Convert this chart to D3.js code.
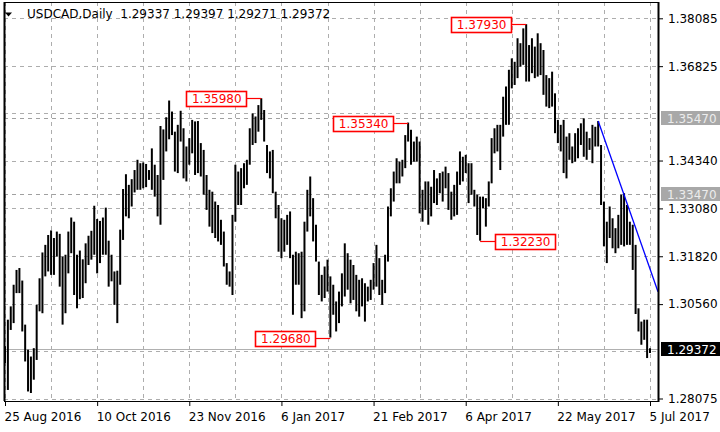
<!DOCTYPE html>
<html>
<head>
<meta charset="utf-8">
<script src="https://cdn.jsdelivr.net/npm/d3@7/dist/d3.min.js"></script>
<style>
    body { margin: 0; background: #fff; }
    svg { display: block; font-family: "DejaVu Sans", sans-serif; }
</style>
</head>
<body>
<div id="chart"></div>
<script>
// title / last bar
const symbol = 'USDCAD,Daily';
const lastOHLC = [1.29337, 1.29397, 1.29271, 1.29372];

// daily bar highs and lows, 25 Aug 2016 .. 5 Jul 2017
const highs = [
    1.2945, 1.3015, 1.3050, 1.3107, 1.3146, 1.3151, 1.3118, 1.3002, 1.2936, 1.2918,
    1.2940, 1.3054, 1.3124, 1.3192, 1.3212, 1.3238, 1.3250, 1.3230, 1.3247, 1.3241,
    1.3181, 1.3186, 1.3247, 1.3284, 1.3273, 1.3186, 1.3197, 1.3174, 1.3216, 1.3236,
    1.3249, 1.3315, 1.3280, 1.3275, 1.3284, 1.3310, 1.3223, 1.3186, 1.3142, 1.3144,
    1.3252, 1.3359, 1.3398, 1.3370, 1.3385, 1.3409, 1.3436, 1.3427, 1.3429, 1.3425,
    1.3409, 1.3466, 1.3423, 1.3396, 1.3525, 1.3516, 1.3548, 1.3592, 1.3563, 1.3510,
    1.3528, 1.3565, 1.3519, 1.3471, 1.3493, 1.3541, 1.3537, 1.3538, 1.3480, 1.3462,
    1.3396, 1.3357, 1.3352, 1.3326, 1.3317, 1.3278, 1.3247, 1.3164, 1.3142, 1.3291,
    1.3423, 1.3405, 1.3414, 1.3427, 1.3436, 1.3519, 1.3558, 1.3550, 1.3580, 1.3598,
    1.3567, 1.3475, 1.3458, 1.3462, 1.3352, 1.3317, 1.3282, 1.3278, 1.3291, 1.3300,
    1.3186, 1.3194, 1.3190, 1.3194, 1.3273, 1.3357, 1.3392, 1.3335, 1.3265, 1.3168,
    1.3133, 1.3155, 1.3173, 1.3129, 1.3107, 1.3063, 1.3089, 1.3137, 1.3216, 1.3190,
    1.3173, 1.3159, 1.3133, 1.3120, 1.3124, 1.3111, 1.3102, 1.3120, 1.3164, 1.3212,
    1.3177, 1.3120, 1.3186, 1.3313, 1.3361, 1.3405, 1.3440, 1.3431, 1.3436, 1.3501,
    1.3534, 1.3515, 1.3484, 1.3497, 1.3484, 1.3357, 1.3379, 1.3379, 1.3365, 1.3409,
    1.3387, 1.3401, 1.3405, 1.3418, 1.3401, 1.3352, 1.3370, 1.3405, 1.3458, 1.3444,
    1.3449, 1.3427, 1.3427, 1.3357, 1.3344, 1.3339, 1.3339, 1.3335, 1.3379, 1.3493,
    1.3519, 1.3528, 1.3528, 1.3602, 1.3629, 1.3673, 1.3703, 1.3694, 1.3756, 1.3743,
    1.3782, 1.3793, 1.3738, 1.3756, 1.3734, 1.3769, 1.3743, 1.3725, 1.3659, 1.3651,
    1.3668, 1.3611, 1.3541, 1.3528, 1.3541, 1.3497, 1.3506, 1.3471, 1.3506, 1.3519,
    1.3532, 1.3545, 1.3510, 1.3493, 1.3528, 1.3523, 1.3538, 1.3475, 1.3326, 1.3273,
    1.3313, 1.3282, 1.3256, 1.3291, 1.3344, 1.3348, 1.3317, 1.3273, 1.3265, 1.3212,
    1.3045, 1.3010, 1.3015, 1.3015, 1.29397
];
const lows = [
    1.2901, 1.2830, 1.2988, 1.3006, 1.3085, 1.3085, 1.2984, 1.2905, 1.2826, 1.2822,
    1.2857, 1.2909, 1.3037, 1.3032, 1.3129, 1.3142, 1.3133, 1.3133, 1.3181, 1.3102,
    1.3002, 1.3032, 1.3137, 1.3190, 1.3080, 1.3045, 1.3069, 1.3072, 1.3111, 1.3159,
    1.3173, 1.3186, 1.3137, 1.3164, 1.3186, 1.3186, 1.3102, 1.3116, 1.3054, 1.3006,
    1.3107, 1.3225, 1.3287, 1.3282, 1.3313, 1.3350, 1.3357, 1.3357, 1.3361, 1.3364,
    1.3383, 1.3357, 1.3339, 1.3287, 1.3265, 1.3383, 1.3458, 1.3490, 1.3501, 1.3405,
    1.3401, 1.3484, 1.3387, 1.3379, 1.3423, 1.3453, 1.3396, 1.3401, 1.3392, 1.3344,
    1.3304, 1.3260, 1.3243, 1.3230, 1.3221, 1.3212, 1.3155, 1.3107, 1.3102, 1.3080,
    1.3273, 1.3317, 1.3317, 1.3361, 1.3370, 1.3423, 1.3475, 1.3480, 1.3510, 1.3541,
    1.3484, 1.3401, 1.3387, 1.3348, 1.3282, 1.3194, 1.3177, 1.3194, 1.3212, 1.3177,
    1.3028, 1.3107, 1.3107, 1.3019, 1.3037, 1.3247, 1.3287, 1.3221, 1.3168, 1.3080,
    1.3063, 1.3072, 1.3089, 1.2968, 1.3028, 1.2984, 1.3006, 1.3050, 1.3076, 1.3094,
    1.3058, 1.3067, 1.3037, 1.3023, 1.3050, 1.3010, 1.3063, 1.3067, 1.3094, 1.3102,
    1.3080, 1.3054, 1.3085, 1.3168, 1.3287, 1.3326, 1.3374, 1.3374, 1.3392, 1.3414,
    1.3484, 1.3423, 1.3431, 1.3431, 1.3295, 1.3273, 1.3304, 1.3265, 1.3287, 1.3322,
    1.3317, 1.3348, 1.3326, 1.3361, 1.3304, 1.3278, 1.3287, 1.3291, 1.3370, 1.3379,
    1.3401, 1.3322, 1.3344, 1.3313, 1.3238, 1.3223, 1.3308, 1.3260, 1.3313, 1.3374,
    1.3453, 1.3458, 1.3409, 1.3497, 1.3528, 1.3528, 1.3624, 1.3633, 1.3651, 1.3681,
    1.3686, 1.3642, 1.3642, 1.3664, 1.3651, 1.3655, 1.3659, 1.3607, 1.3576, 1.3572,
    1.3576, 1.3506, 1.3480, 1.3458, 1.3401, 1.3387, 1.3436, 1.3427, 1.3431, 1.3440,
    1.3475, 1.3444, 1.3436, 1.3462, 1.3427, 1.3471, 1.3471, 1.3317, 1.3208, 1.3164,
    1.3230, 1.3203, 1.3190, 1.3203, 1.3212, 1.3208, 1.3212, 1.3212, 1.3146, 1.3030,
    1.2984, 1.2949, 1.2962, 1.2914, 1.29271
];

// time axis
const dateLabels = ['25 Aug 2016', '10 Oct 2016', '23 Nov 2016', '6 Jan 2017',
    '21 Feb 2017', '6 Apr 2017', '22 May 2017', '5 Jul 2017'];
const dateTickIdx = [0, 32, 64, 96, 128, 160, 192, 224];
const gridIdx = [0, 16, 32, 48, 64, 80, 96, 112, 128, 144, 160, 176, 192, 208, 224];

// price axis
const priceTicks = [1.38085, 1.36825, 1.34340, 1.33080, 1.31820, 1.30560, 1.28075];
const gridPrices = [1.38085, 1.36825, 1.35580, 1.34340, 1.33080, 1.31820, 1.30560, 1.29320, 1.28075];

// horizontal levels, bid, swing labels, trend line
const levels = [1.35470, 1.33470];
const bid = 1.29372;
const swingIdx = [89, 113, 140, 165, 181];
const swingPrice = [1.35980, 1.29680, 1.35340, 1.32230, 1.37930];
const trendIdx = [206, 215];
const trendPrice = [1.35382, 1.33435];

const W = 720, H = 432;
const plot = { left: 4, right: 658, top: 2, bottom: 401 };

const svg = d3.select('#chart').append('svg')
    .attr('width', W).attr('height', H);

const x = d3.scaleLinear().domain([0, highs.length - 1]).range([5, 650]);
const y = d3.scaleLinear().domain([1.28075, 1.38085]).range([398.5, 18.3]);
const fmt = d3.format('.5f');
const crisp = (v) => Math.round(v) + 0.5;

// grid
const grid = svg.append('g').attr('class', 'grid')
    .attr('stroke', '#adadad').attr('stroke-dasharray', '4,4').attr('stroke-width', 1);
grid.selectAll('line.h').data(gridPrices).join('line').attr('class', 'h')
    .attr('x1', plot.left).attr('x2', plot.right)
    .attr('y1', (d) => crisp(y(d))).attr('y2', (d) => crisp(y(d)));
grid.selectAll('line.v').data(gridIdx).join('line').attr('class', 'v')
    .attr('y1', plot.top).attr('y2', plot.bottom)
    .attr('x1', (d) => crisp(x(d))).attr('x2', (d) => crisp(x(d)));

// horizontal levels
svg.append('g').selectAll('line').data(levels).join('line')
    .attr('x1', plot.left).attr('x2', plot.right)
    .attr('y1', (d) => crisp(y(d))).attr('y2', (d) => crisp(y(d)))
    .attr('stroke', '#a0a0a0').attr('stroke-dasharray', '4,4');

// bid line
svg.append('line')
    .attr('x1', plot.left).attr('x2', plot.right)
    .attr('y1', crisp(y(bid))).attr('y2', crisp(y(bid)))
    .attr('stroke', '#b0b0b0');

// bars
svg.append('g').attr('class', 'bars')
    .selectAll('line').data(highs).join('line')
    .attr('x1', (d, i) => x(i)).attr('x2', (d, i) => x(i))
    .attr('y1', (d) => y(d)).attr('y2', (d, i) => y(lows[i]))
    .attr('stroke', '#000').attr('stroke-width', 2);

// trend line, extended to the right edge
const slope = (trendPrice[1] - trendPrice[0]) / (trendIdx[1] - trendIdx[0]);
const endIdx = x.invert(plot.right);
svg.append('line')
    .attr('x1', x(trendIdx[0])).attr('y1', y(trendPrice[0]))
    .attr('x2', plot.right).attr('y2', y(trendPrice[0] + slope * (endIdx - trendIdx[0])))
    .attr('stroke', '#0000ff').attr('stroke-width', 1.3);

// swing labels
const labelsG = svg.append('g').attr('class', 'swing');
swingIdx.forEach((idx, k) => {
    const px = x(idx), py = crisp(y(swingPrice[k]));
    const right = idx === 165;
    const bw = 60, bh = 15, gap = 15;
    const bx = right ? px + gap : px - gap - bw;
    labelsG.append('line')
        .attr('x1', right ? px : px - gap).attr('x2', right ? px + gap : px)
        .attr('y1', py).attr('y2', py)
        .attr('stroke', '#ff0000').attr('stroke-width', 1.2);
    labelsG.append('rect')
        .attr('x', Math.round(bx) + 0.5).attr('y', Math.round(py - bh / 2) + 0.5)
        .attr('width', bw).attr('height', bh)
        .attr('fill', '#fff').attr('stroke', '#ff0000').attr('stroke-width', 1.6);
    labelsG.append('text')
        .attr('x', bx + bw / 2 + 0.5).attr('y', py + 4.5)
        .attr('text-anchor', 'middle').attr('font-size', 12).attr('fill', '#ff0000')
        .text(fmt(swingPrice[k]));
});

// frame
svg.append('rect')
    .attr('x', plot.left + 0.5).attr('y', plot.top + 0.5)
    .attr('width', plot.right - plot.left).attr('height', plot.bottom - plot.top)
    .attr('fill', 'none').attr('stroke', '#000');
svg.append('line').attr('x1', plot.left + 0.5).attr('x2', plot.left + 0.5)
    .attr('y1', plot.top).attr('y2', plot.bottom).attr('stroke', '#000').attr('stroke-width', 2);
svg.append('line').attr('x1', plot.right + 0.5).attr('x2', plot.right + 0.5)
    .attr('y1', plot.top).attr('y2', plot.bottom + 1).attr('stroke', '#000').attr('stroke-width', 2);

// axes
const yAxis = svg.append('g')
    .attr('transform', `translate(${plot.right + 1},0)`)
    .call(d3.axisRight(y).tickValues(priceTicks).tickSize(4).tickPadding(5).tickFormat(fmt));
const xAxis = svg.append('g')
    .attr('transform', `translate(0,${plot.bottom})`)
    .call(d3.axisBottom(x).tickValues(dateTickIdx).tickSize(5).tickPadding(6)
        .tickFormat((d, i) => dateLabels[i]));
[yAxis, xAxis].forEach((a) => {
    a.select('.domain').remove();
    a.selectAll('text').attr('font-family', '"DejaVu Sans", sans-serif')
        .attr('font-size', 12).attr('fill', '#000');
    a.selectAll('line').attr('stroke', '#000');
});
xAxis.selectAll('text').attr('text-anchor', 'start').attr('dx', -1);

// price tags on the right
const tags = levels.map((v) => ({ v, bg: '#a8a8a8', fg: '#ececec' }))
    .concat([{ v: bid, bg: '#000', fg: '#fff' }]);
const tagG = svg.append('g').selectAll('g').data(tags).join('g')
    .attr('transform', (d) => `translate(661,${Math.round(y(d.v)) - 7})`);
tagG.append('rect').attr('width', 59).attr('height', 14).attr('fill', (d) => d.bg);
tagG.append('text').attr('x', 6).attr('y', 11.5)
    .attr('font-size', 12).attr('fill', (d) => d.fg).text((d) => fmt(d.v));

// title
svg.append('path').attr('d', 'M5,12.5 L12,12.5 L8.5,16.5 Z').attr('fill', '#000');
svg.append('text').attr('x', 27).attr('y', 18).attr('font-size', 12).attr('fill', '#000')
    .text(`${symbol}  ${lastOHLC.map(fmt).join(' ')}`)
    .attr('xml:space', 'preserve').style('white-space', 'pre');
</script>
</body>
</html>
